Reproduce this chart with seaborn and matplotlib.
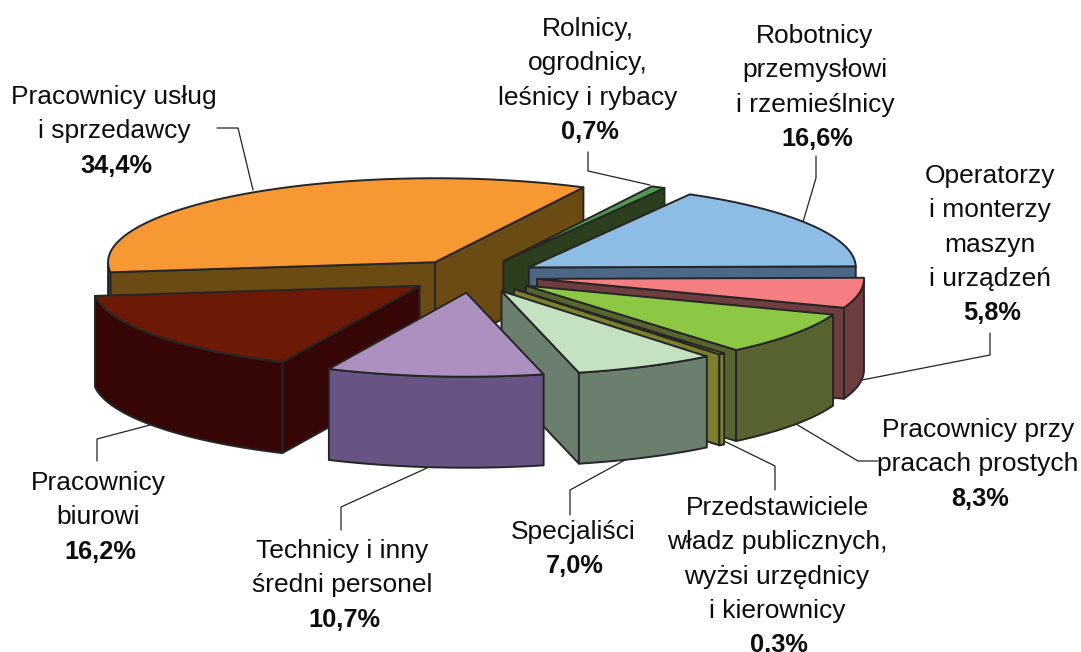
import numpy as np
import matplotlib
matplotlib.use('Agg')
import matplotlib.pyplot as plt
import seaborn as sns

# clockwise order, starting with the slice that sits at the top right
categories = ['Robotnicy', 'Operatorzy', 'Proste', 'Przedstawiciele', 'Specjalisci',
              'Technicy', 'Biurowi', 'Uslugi', 'Rolnicy']
values = [16.6, 5.8, 8.3, 0.3, 7.0, 10.7, 16.2, 34.4, 0.7]

label_lines = [
    ['Robotnicy', 'przemysłowi', 'i rzemieślnicy'],
    ['Operatorzy', 'i monterzy', 'maszyn', 'i urządzeń'],
    ['Pracownicy przy', 'pracach prostych'],
    ['Przedstawiciele', 'władz publicznych,', 'wyżsi urzędnicy', 'i kierownicy'],
    ['Specjaliści'],
    ['Technicy i inny', 'średni personel'],
    ['Pracownicy', 'biurowi'],
    ['Pracownicy usług', 'i sprzedawcy'],
    ['Rolnicy,', 'ogrodnicy,', 'leśnicy i rybacy'],
]

top_colors = ['#8DBCE4', '#F47E82', '#8CC844', '#C2B82E', '#C4E1C2',
              '#AC90BF', '#6C1906', '#F89833', '#4F9A4F']
side_colors = ['#4C6886', '#6E3D40', '#586430', '#7C7F2B', '#6A7F6E',
               '#675485', '#360505', '#6B4A14', '#2B3F1E']

# layout of the pie in pixels
center_x, center_y = 472.5, 276
radius_x, radius_y = 327, 84
depth = 91
explode = 0.2
start_angle = 29.5

# back to front, as indexes into the lists above
draw_order = [7, 8, 0, 1, 2, 3, 4, 6, 5]

# label anchors: x centre, first baseline
label_pos = [(815, 43), (990, 183), (978, 437), (777, 515), (573, 539),
             (342, 558), (98, 490), (114, 104), (588, 36)]
line_step = 34.3

leaders = [
    [(803, 222), (816, 178), (816, 156)],
    [(862, 380), (990, 355), (990, 333)],
    [(796, 424), (858, 461), (878, 461)],
    [(724, 441), (775, 466), (775, 490)],
    [(625, 460), (570, 490), (570, 515)],
    [(427, 468), (341, 507), (341, 530)],
    [(150, 425), (97, 439), (97, 461)],
    [(253, 190), (238, 128), (217, 128)],
    [(650, 185), (588, 171), (588, 152)],
]

sns.set_theme(style='white')
plt.rcParams['font.family'] = ['Liberation Sans', 'DejaVu Sans']

fig, ax = plt.subplots(figsize=(10.81, 6.52), dpi=100)
fig.subplots_adjust(left=0, right=1, top=1, bottom=0)
ax.set_xlim(0, 1081)
ax.set_ylim(652, 0)
ax.axis('off')

edge = '#262626'


def point(theta, ox, oy):
    '''Point on the top rim of a slice, theta in degrees clockwise from the back.'''
    t = np.radians(theta)
    return ox + radius_x * np.sin(t), oy - radius_y * np.cos(t)


def draw_slice(theta1, theta2, top, side, z):
    mid = np.radians((theta1 + theta2) / 2)
    ox = center_x + explode * radius_x * np.sin(mid)
    oy = center_y - explode * radius_y * np.cos(mid)

    # walls along the radius, only if they face the viewer
    for theta, visible in [(theta1, np.sin(np.radians(theta1)) < 0),
                           (theta2, np.sin(np.radians(theta2)) > 0)]:
        if visible:
            px, py = point(theta, ox, oy)
            ax.fill([ox, px, px, ox], [oy, py, py + depth, oy + depth],
                    facecolor=side, edgecolor=edge, lw=1.4, joinstyle='round', zorder=z)

    # outer wall, the part of the rim on the near side
    for lo, hi in [(90, 270), (450, 630)]:
        a, b = max(theta1, lo), min(theta2, hi)
        if a < b:
            th = np.linspace(a, b, 80)
            px, py = point(th, ox, oy)
            ax.fill(np.r_[px, px[::-1]], np.r_[py, py[::-1] + depth],
                    facecolor=side, edgecolor=edge, lw=1.4, joinstyle='round', zorder=z)

    # top face
    th = np.linspace(theta1, theta2, 120)
    px, py = point(th, ox, oy)
    ax.fill(np.r_[ox, px], np.r_[oy, py], facecolor=top, edgecolor=edge,
            lw=1.4, joinstyle='round', zorder=z)


edges = start_angle + np.r_[0, np.cumsum(values)] * 3.6
for z, i in enumerate(draw_order):
    draw_slice(edges[i], edges[i + 1], top_colors[i], side_colors[i], z + 1)

# leader lines and labels
for path in leaders:
    xs, ys = zip(*path)
    ax.plot(xs, ys, color='#222222', lw=0.9, zorder=0.5)

for i, lines in enumerate(label_lines):
    x, y = label_pos[i]
    for line in lines:
        ax.text(x, y, line, ha='center', va='baseline', fontsize=19, color='#0d0d0d')
        y += line_step
    pct = f'{values[i]:.1f}%'.replace('.', ',')
    ax.text(x + 2, y, pct, ha='center', va='baseline', fontsize=18.3,
            fontweight='bold', color='#0d0d0d')

plt.savefig('out.png', dpi=100)
